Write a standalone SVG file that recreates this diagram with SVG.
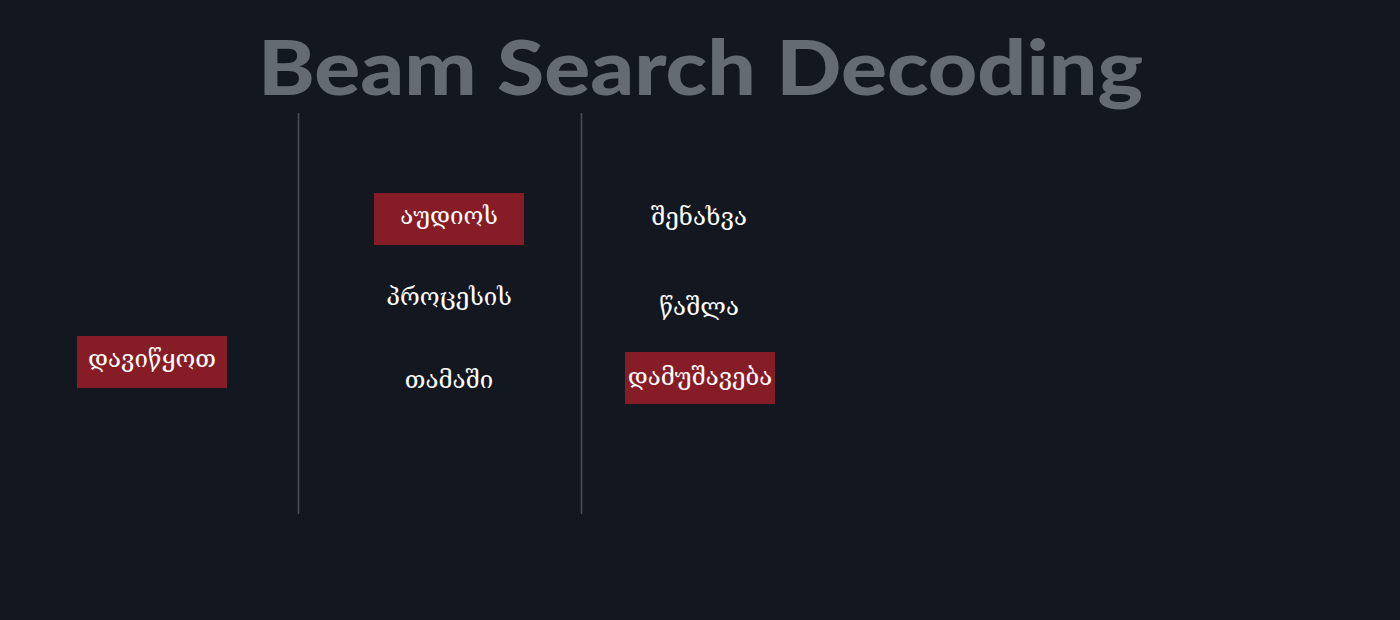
<svg xmlns="http://www.w3.org/2000/svg" width="1400" height="620" viewBox="0 0 1400 620">
<style>
.bg{fill:#131820}
.title{font-family:"Lato","DejaVu Sans",sans-serif;font-weight:900;font-size:76px;fill:#656b73}
.sep{stroke:#4b5058;stroke-width:1.5}
.box{fill:#861d26}
.lbl{font-family:"DejaVu Serif",serif;font-size:24px;fill:#ffffff;text-anchor:middle}
</style>
<rect class="bg" x="0" y="0" width="1400" height="620"/>
<text class="title" x="700.5" y="95" text-anchor="middle" textLength="885" lengthAdjust="spacingAndGlyphs">Beam Search Decoding</text>
<g id="connectors">
<line class="sep" x1="298.5" y1="113" x2="298.5" y2="514"/>
<line class="sep" x1="581.5" y1="113" x2="581.5" y2="514"/>
</g>
<g id="n-start"><rect class="box" x="77" y="336" width="150" height="52"/><text class="lbl" x="152" y="367">დავიწყოთ</text></g>
<g id="n-audio"><rect class="box" x="374" y="193" width="150" height="52"/><text class="lbl" x="449" y="224">აუდიოს</text></g>
<g id="n-process"><text class="lbl" x="449" y="305">პროცესის</text></g>
<g id="n-game"><text class="lbl" x="449" y="388">თამაში</text></g>
<g id="n-save"><text class="lbl" x="699" y="225">შენახვა</text></g>
<g id="n-delete"><text class="lbl" x="699" y="315">წაშლა</text></g>
<g id="n-processing"><rect class="box" x="625" y="352" width="150" height="52"/><text class="lbl" x="700" y="385">დამუშავება</text></g>
</svg>
